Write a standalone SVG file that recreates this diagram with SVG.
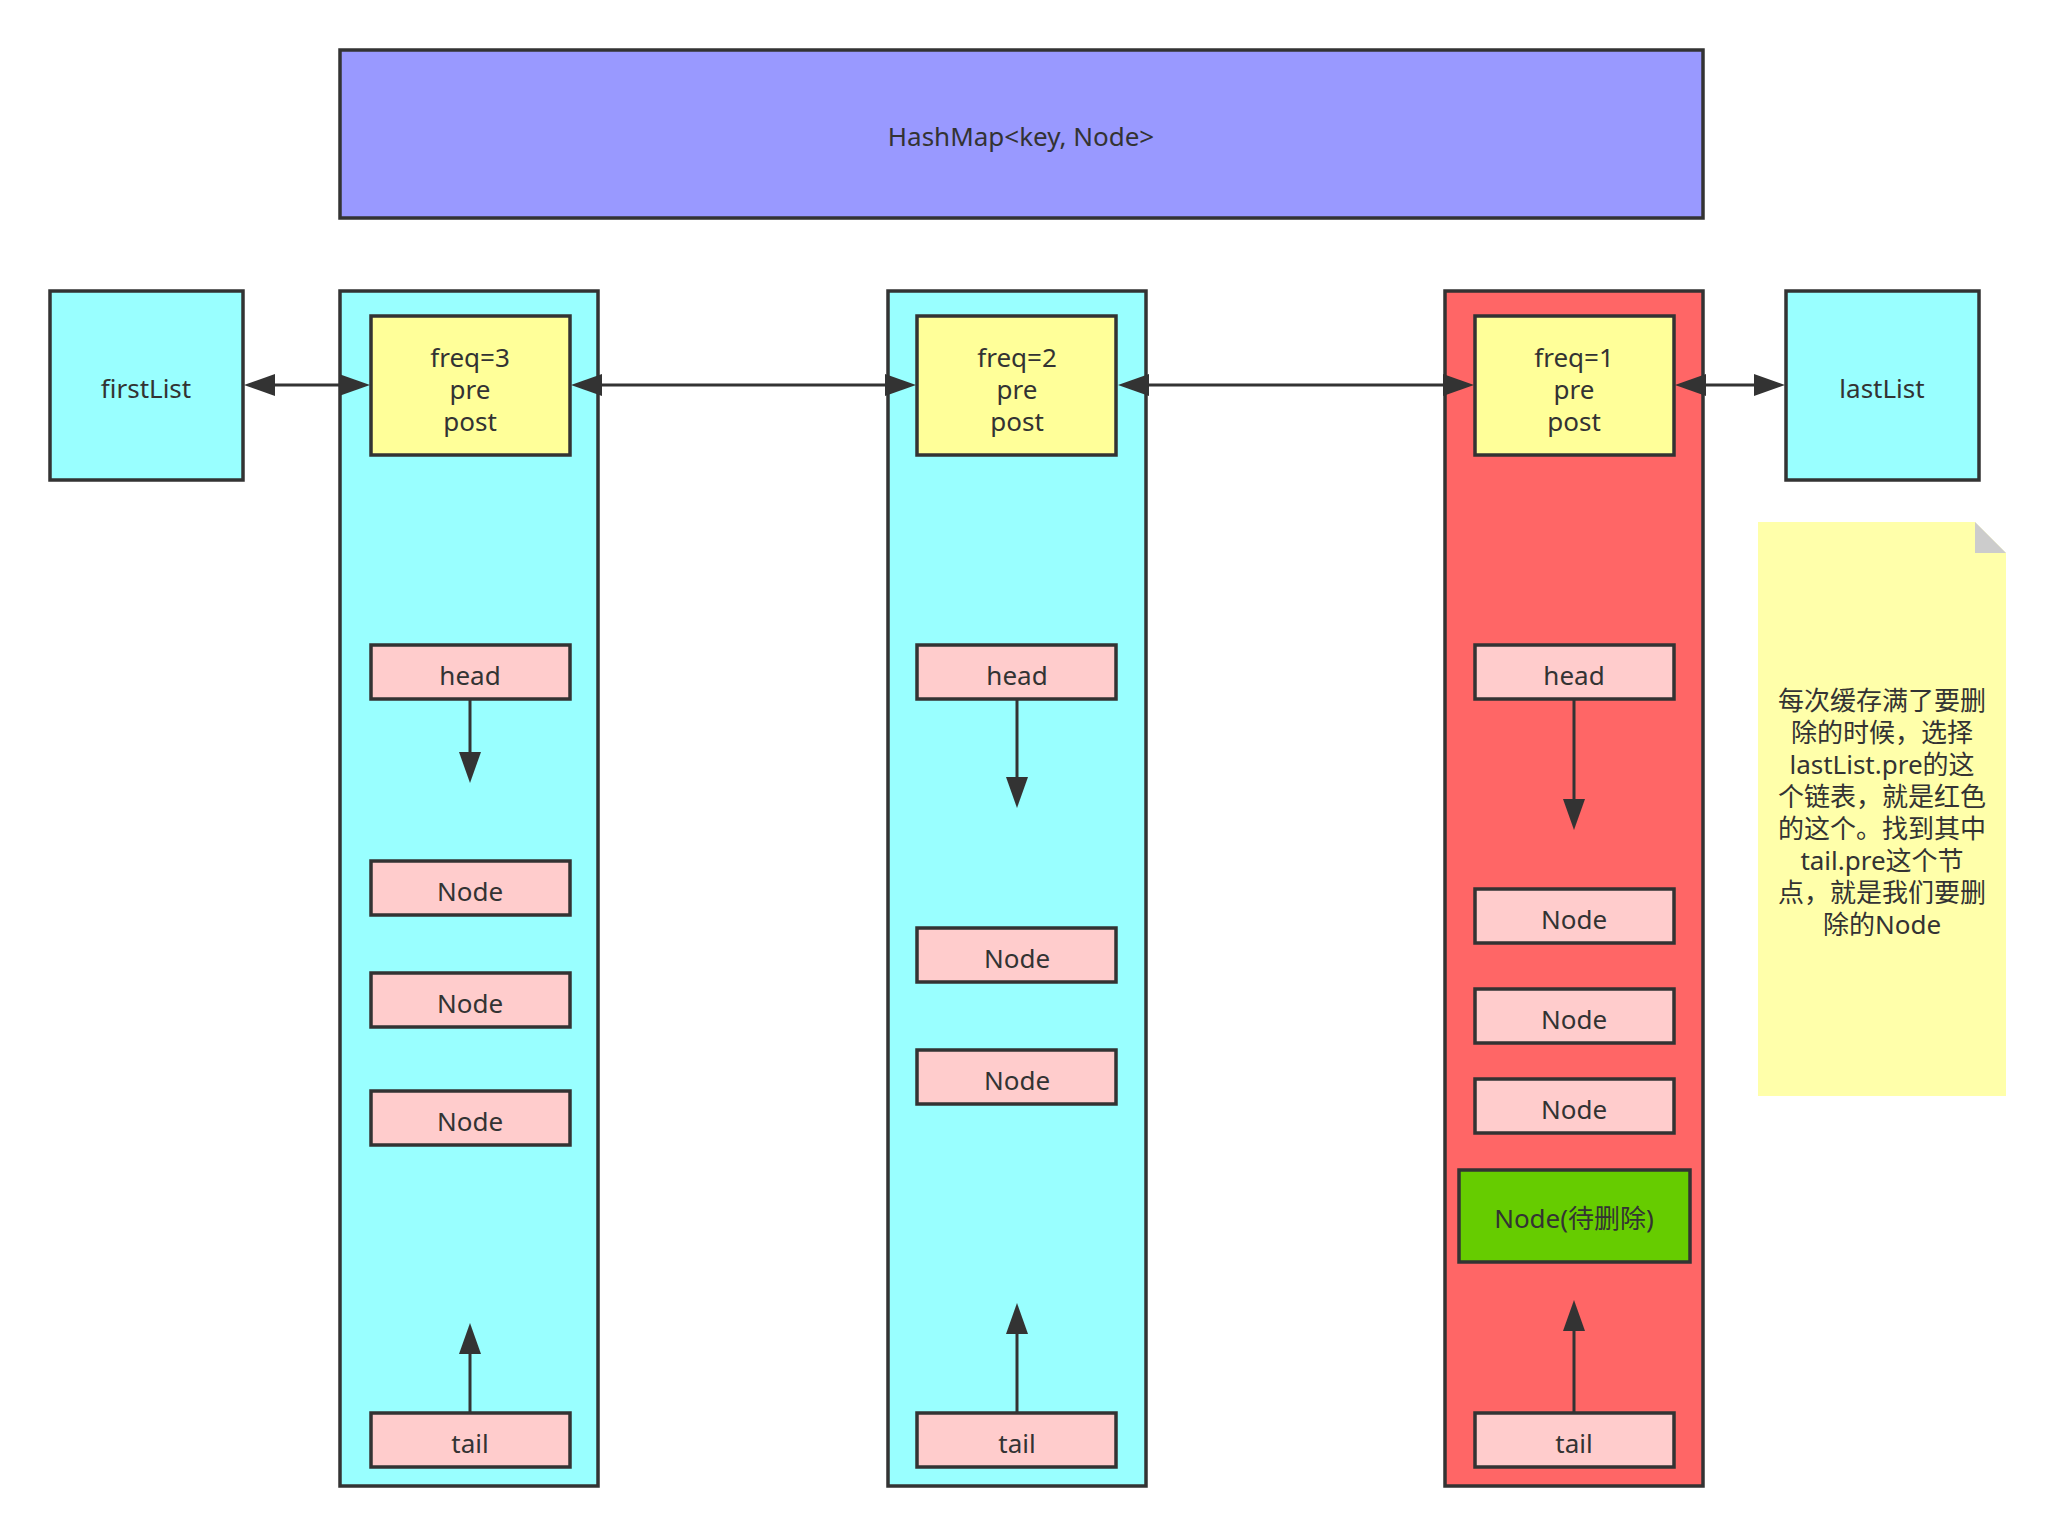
<svg xmlns="http://www.w3.org/2000/svg" width="2056" height="1536" viewBox="0 0 2056 1536">
<defs>
<style>
.bx{stroke:#333333;stroke-width:3.5}
.cy{fill:#99FFFF}
.ye{fill:#FFFF99}
.pk{fill:#FFCCCC}
.rd{fill:#FF6666}
.gr{fill:#66CC00}
.pu{fill:#9999FF}
text{font-family:"Noto Sans","Noto Sans CJK SC",sans-serif;font-size:26px;fill:#333333;text-anchor:middle}
.ln{stroke:#333333;stroke-width:3;fill:none}
</style>
<marker id="ar" markerUnits="userSpaceOnUse" markerWidth="32" markerHeight="24" refX="1" refY="11" orient="auto-start-reverse">
<path d="M0,0 L31,11 L0,22 z" fill="#333333"/>
</marker>
</defs>
<rect width="2056" height="1536" fill="#FFFFFF"/>

<g id="hashmap">
<rect class="bx pu" x="340" y="50" width="1363" height="168"/>
<text x="1021" y="146">HashMap&lt;key, Node&gt;</text>
</g>

<g id="firstList">
<rect class="bx cy" x="50" y="291" width="193" height="189"/>
<text x="146" y="398">firstList</text>
</g>

<g id="lastList">
<rect class="bx cy" x="1786" y="291" width="193" height="189"/>
<text x="1882" y="398">lastList</text>
</g>

<g id="list3">
<rect class="bx cy" x="340" y="291" width="258" height="1195"/>
</g>
<g id="list2">
<rect class="bx cy" x="888" y="291" width="258" height="1195"/>
</g>
<g id="list1">
<rect class="bx rd" x="1445" y="291" width="258" height="1195"/>
</g>

<g id="freq3">
<rect class="bx ye" x="371" y="316" width="199" height="139"/>
<text x="470" y="367">freq=3</text><text x="470" y="399">pre</text><text x="470" y="431">post</text>
</g>
<g id="freq2">
<rect class="bx ye" x="917" y="316" width="199" height="139"/>
<text x="1017" y="367">freq=2</text><text x="1017" y="399">pre</text><text x="1017" y="431">post</text>
</g>
<g id="freq1">
<rect class="bx ye" x="1475" y="316" width="199" height="139"/>
<text x="1574" y="367">freq=1</text><text x="1574" y="399">pre</text><text x="1574" y="431">post</text>
</g>

<g id="head3"><rect class="bx pk" x="371" y="645" width="199" height="54"/><text x="470" y="685">head</text></g>
<g id="node3a"><rect class="bx pk" x="371" y="861" width="199" height="54"/><text x="470" y="901">Node</text></g>
<g id="node3b"><rect class="bx pk" x="371" y="973" width="199" height="54"/><text x="470" y="1013">Node</text></g>
<g id="node3c"><rect class="bx pk" x="371" y="1091" width="199" height="54"/><text x="470" y="1131">Node</text></g>
<g id="tail3"><rect class="bx pk" x="371" y="1413" width="199" height="54"/><text x="470" y="1453">tail</text></g>

<g id="head2"><rect class="bx pk" x="917" y="645" width="199" height="54"/><text x="1017" y="685">head</text></g>
<g id="node2a"><rect class="bx pk" x="917" y="928" width="199" height="54"/><text x="1017" y="968">Node</text></g>
<g id="node2b"><rect class="bx pk" x="917" y="1050" width="199" height="54"/><text x="1017" y="1090">Node</text></g>
<g id="tail2"><rect class="bx pk" x="917" y="1413" width="199" height="54"/><text x="1017" y="1453">tail</text></g>

<g id="head1"><rect class="bx pk" x="1475" y="645" width="199" height="54"/><text x="1574" y="685">head</text></g>
<g id="node1a"><rect class="bx pk" x="1475" y="889" width="199" height="54"/><text x="1574" y="929">Node</text></g>
<g id="node1b"><rect class="bx pk" x="1475" y="989" width="199" height="54"/><text x="1574" y="1029">Node</text></g>
<g id="node1c"><rect class="bx pk" x="1475" y="1079" width="199" height="54"/><text x="1574" y="1119">Node</text></g>
<g id="del"><rect class="bx gr" x="1459" y="1170" width="231" height="92"/><text x="1574" y="1228">Node(待删除)</text></g>
<g id="tail1"><rect class="bx pk" x="1475" y="1413" width="199" height="54"/><text x="1574" y="1453">tail</text></g>

<g id="note">
<path d="M1758,522 H1975 L2006,553 V1096 H1758 Z" fill="#FFFFAA"/>
<path d="M1975,522 L2006,553 H1975 Z" fill="#CCCCCC"/>
<text x="1882" y="710">每次缓存满了要删</text>
<text x="1882" y="742">除的时候，选择</text>
<text x="1882" y="774">lastList.pre的这</text>
<text x="1882" y="806">个链表，就是红色</text>
<text x="1882" y="838">的这个。找到其中</text>
<text x="1882" y="870">tail.pre这个节</text>
<text x="1882" y="902">点，就是我们要删</text>
<text x="1882" y="934">除的Node</text>
</g>

<g id="connectors">
<path class="ln" d="M274,385 H340" marker-start="url(#ar)" marker-end="url(#ar)"/>
<path class="ln" d="M601,385 H886" marker-start="url(#ar)" marker-end="url(#ar)"/>
<path class="ln" d="M1148,385 H1444" marker-start="url(#ar)" marker-end="url(#ar)"/>
<path class="ln" d="M1705,385 H1755" marker-start="url(#ar)" marker-end="url(#ar)"/>
<path class="ln" d="M470,700 V753" marker-end="url(#ar)"/>
<path class="ln" d="M1017,700 V778" marker-end="url(#ar)"/>
<path class="ln" d="M1574,700 V800" marker-end="url(#ar)"/>
<path class="ln" d="M470,1412 V1353" marker-end="url(#ar)"/>
<path class="ln" d="M1017,1412 V1333" marker-end="url(#ar)"/>
<path class="ln" d="M1574,1412 V1330" marker-end="url(#ar)"/>
</g>
</svg>
